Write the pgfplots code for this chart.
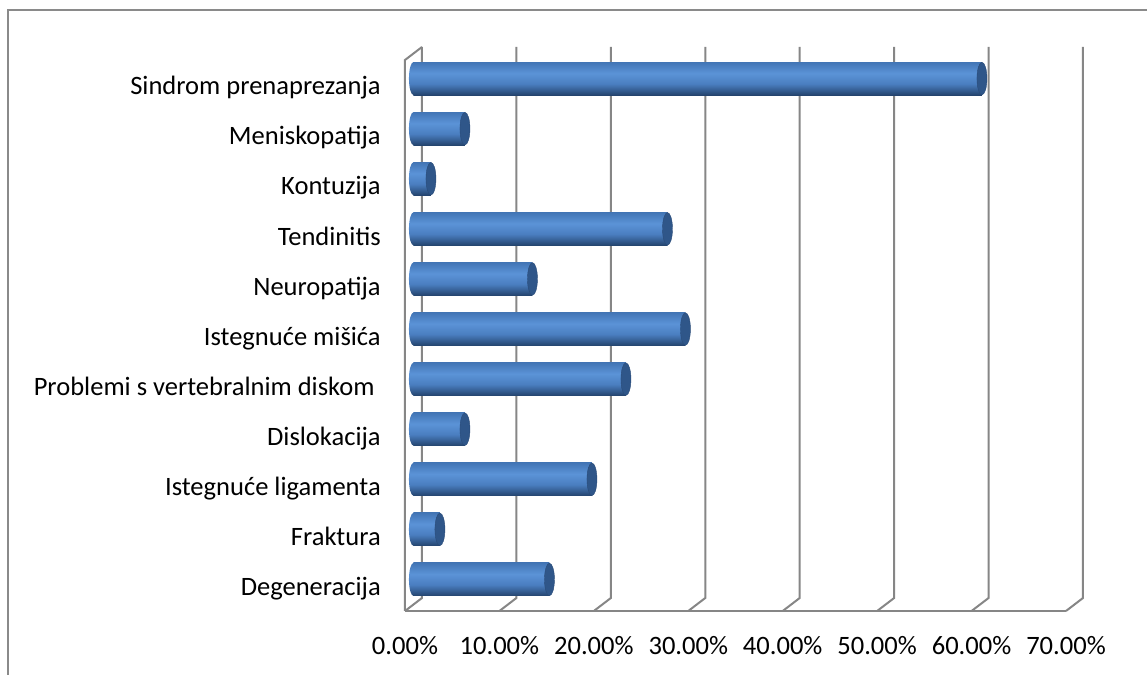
\documentclass[border=0pt]{standalone}
\usepackage{pgfplots}
\pgfplotsset{compat=1.18}
\usetikzlibrary{shapes.geometric}
\usepackage{fontspec}
\setmainfont{Carlito}
\definecolor{gridc}{HTML}{868686}
\definecolor{framec}{HTML}{8A8A8A}
\definecolor{cylT}{HTML}{4275B5}
\definecolor{cylL}{HTML}{5B93D7}
\definecolor{cylM}{HTML}{4A7EC0}
\definecolor{cylB}{HTML}{24446E}
\definecolor{capC}{HTML}{2F5689}
\definecolor{capD}{HTML}{2A4B78}
\pgfdeclareverticalshading{cyl}{100bp}{color(0bp)=(cylB); color(25bp)=(cylB); color(42bp)=(cylM); color(58bp)=(cylL); color(75bp)=(cylT); color(100bp)=(cylT)}
\pgfdeclareplotmark{capR}{\pgfpathellipse{\pgfpointorigin}{\pgfqpoint{3.75pt}{0pt}}{\pgfqpoint{0pt}{12.2pt}}\pgfusepathqfillstroke}
\pgfplotstableread{
y x
0 14.4
1 2.8
2 18.9
3 5.45
4 22.5
5 28.8
6 12.6
7 26.9
8 1.85
9 5.45
10 60.2
}\bars
\pgfplotstableread{
y x
0 0
1 0
2 0
3 0
4 0
5 0
6 0
7 0
8 0
9 0
10 0
}\bases
\begin{document}
\begin{tikzpicture}
\useasboundingbox (-310.125pt,-52.875pt) rectangle (550.125pt,453.375pt);
\draw[framec, line width=1.2pt] (-304.125pt,-60pt) -- (-304.125pt,445.875pt) -- (560pt,445.875pt);
\begin{axis}[
  scale only axis, width=495.75pt, height=413.25pt,
  xmin=0, xmax=70, ymin=-0.5, ymax=10.5,
  clip=false,
  axis line style={draw=none},
  major tick length=0pt,
  xtick={0,10,...,70},
  ytick={0,...,10},
  yticklabels={Degeneracija, Fraktura, Istegnuće ligamenta, Dislokacija, Problemi s vertebralnim diskom\kern0.23em, Istegnuće mišića, Neuropatija, Tendinitis, Kontuzija, Meniskopatija, Sindrom prenaprezanja},
  /pgf/number format/assume math mode=true,
  xticklabel={\pgfmathprintnumber[fixed,fixed zerofill,precision=2]{\tick}\%},
  every tick label/.append style={font=\fontsize{19.9}{23}\selectfont, text=black},
  xticklabel style={anchor=base, inner sep=0pt, xshift=-6.375pt, yshift=-37.4pt},
  yticklabel style={anchor=base east, inner sep=0pt, xshift=-24.4pt, yshift=-12.2pt},
]
\pgfplotsinvokeforeach{0,10,...,70}{
  \draw[gridc, line width=1.5pt, line join=miter]
    ([xshift=6.375pt,yshift=4.875pt]axis cs:#1,10.5) --
    ([xshift=6.375pt,yshift=4.875pt]axis cs:#1,-0.5) --
    ([xshift=-6.375pt,yshift=-4.875pt]axis cs:#1,-0.5);
}
\draw[gridc, line width=1.5pt]
  ([xshift=-6.375pt,yshift=-4.875pt]axis cs:0,-0.5) --
  ([xshift=-6.375pt,yshift=-4.875pt]axis cs:70,-0.5);
\draw[gridc, line width=1.5pt, line join=miter]
  ([xshift=-6.375pt,yshift=-4.875pt]axis cs:0,-0.5) --
  ([xshift=-6.375pt,yshift=-4.875pt]axis cs:0,10.5) --
  ([xshift=6.375pt,yshift=4.875pt]axis cs:0,10.5);
\pgfplotsinvokeforeach{0,...,10}{
  \addplot[xbar, bar width=24.75pt, bar shift=0pt, shade, shading=cyl, shading angle=0, draw=none,
    x filter/.expression={\coordindex==#1 ? x : nan}] table[x=x,y=y] {\bars};
}
\addplot[only marks, mark=capR, mark options={fill=capC, draw=capD, line width=0.3pt}] table[x=x,y=y] {\bars};
\addplot[draw=none, mark=none, nodes near coords={},
  every node near coord/.style={ellipse, minimum width=6.8pt, minimum height=24.75pt, inner sep=0pt, shade, shading=cyl, shading angle=0, anchor=center}] table[x=x,y=y] {\bases};
\end{axis}
\end{tikzpicture}
\end{document}
